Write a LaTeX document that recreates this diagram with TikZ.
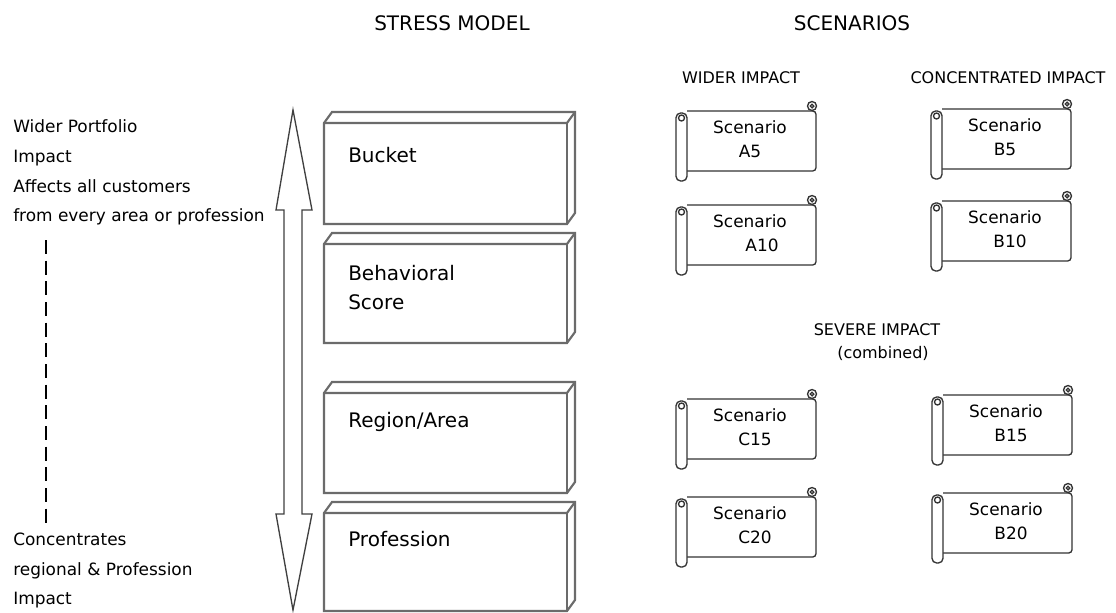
\documentclass[tikz,border=0pt]{standalone}
\usepackage{fontspec}
\setmainfont{DejaVu Sans}
\begin{document}
\begin{tikzpicture}[x=0.75pt,y=-0.75pt,
  txt/.style={font=\fontsize{12.7}{15}\selectfont, inner sep=0pt, anchor=base west},
  lbl/.style={font=\fontsize{15}{18}\selectfont, inner sep=0pt, anchor=base west},
  head/.style={font=\fontsize{15}{18}\selectfont, inner sep=0pt, anchor=base},
  subhead/.style={font=\fontsize{12}{14}\selectfont, inner sep=0pt, anchor=base},
  sctxt/.style={font=\fontsize{12.7}{15}\selectfont, inner sep=0pt, anchor=base},
  boxline/.style={draw=black!58, line width=1.6pt, line join=miter},
  scrl/.style={draw=black!80, line width=1pt},
  barrow/.style={draw=black!75, line width=1pt, line join=miter}]
\useasboundingbox[fill=white] (0,0) rectangle (1116,612);

% headings
\node[lbl] (hstress) at (374,30) {STRESS MODEL};
\node[head] (hscen) at (852,30) {SCENARIOS};
\node[subhead] (hwider) at (741,83) {WIDER IMPACT};
\node[subhead] (hconc) at (1008,83) {CONCENTRATED IMPACT};
\node[subhead] (hsevere) at (877,335) {SEVERE IMPACT};
\node[subhead] (hcomb) at (883,358) {(combined)};

% left texts
\node[txt] (l1) at (13,132) {Wider Portfolio};
\node[txt] (l2) at (13,162) {Impact};
\node[txt] (l3) at (13,192) {Affects all customers};
\node[txt] (l4) at (13,221) {from every area or profession};
\node[txt] (l5) at (13,545) {Concentrates};
\node[txt] (l6) at (13,575) {regional \& Profession};
\node[txt] (l7) at (13,604) {Impact};
\coordinate (dtop) at (46,240);
\coordinate (dbot) at (46,525);
\draw[black, line width=0.8pt, dash pattern=on 10.5pt off 5pt] (dtop) -- (dbot);

% double block arrow
\draw[barrow] (293,110) -- (312,210) -- (302,210) -- (302,514) -- (312,514)
  -- (293,610) -- (276,514) -- (284,514) -- (284,210) -- (276,210) -- cycle;

% stress model boxes
\newcommand\stressbox[2]{%
  \draw[boxline] (324,#1+11) -- (332,#1) -- (575,#1) -- (575,#2-11) -- (567,#2) -- (324,#2) -- cycle;
  \draw[boxline] (324,#1+11) -- (567,#1+11) -- (575,#1);
  \draw[boxline] (567,#1+11) -- (567,#2);
}
\stressbox{112}{224}
\stressbox{233}{343}
\stressbox{382}{493}
\stressbox{502}{611}
\node[lbl] (bucket) at (348,162) {Bucket};
\node[lbl] (behav) at (348,280) {Behavioral};
\node[lbl] (score) at (348,309) {Score};
\node[lbl] (region) at (348,427) {Region/Area};
\node[lbl] (prof) at (348,546) {Profession};

% scrolls
\newcommand\scenscroll[5]{% name, x, y, label, offset
  \draw[scrl, rounded corners=2.5pt] (#2+11,#3) -- (#2+140,#3) -- (#2+140,#3+60) -- (#2+11,#3+60);
  \draw[scrl, fill=white] (#2+136,#3-5) circle[radius=4.5];
  \draw[scrl] (#2+136,#3-5) circle[radius=1.8];
  \draw[scrl, fill=white, rounded corners=3.5pt] (#2,#3+2) rectangle (#2+11,#3+70);
  \draw[scrl] (#2+5.5,#3+7) circle[radius=3];
  \node[inner sep=0pt, minimum width=96pt, minimum height=45pt] (#1) at (#2+75,#3+30) {};
  \node[sctxt] (#1a) at (#2+74,#3+22) {Scenario};
  \node[sctxt] (#1b) at (#2+74+#5,#3+46) {#4};
}
\scenscroll{a5}{676}{111}{A5}{0}
\scenscroll{a10}{676}{205}{A10}{12}
\scenscroll{b5}{931}{109}{B5}{0}
\scenscroll{b10}{931}{201}{B10}{5}
\scenscroll{c15}{676}{399}{C15}{5}
\scenscroll{c20}{676}{497}{C20}{5}
\scenscroll{b15}{932}{395}{B15}{5}
\scenscroll{b20}{932}{493}{B20}{5}
\end{tikzpicture}
\end{document}
